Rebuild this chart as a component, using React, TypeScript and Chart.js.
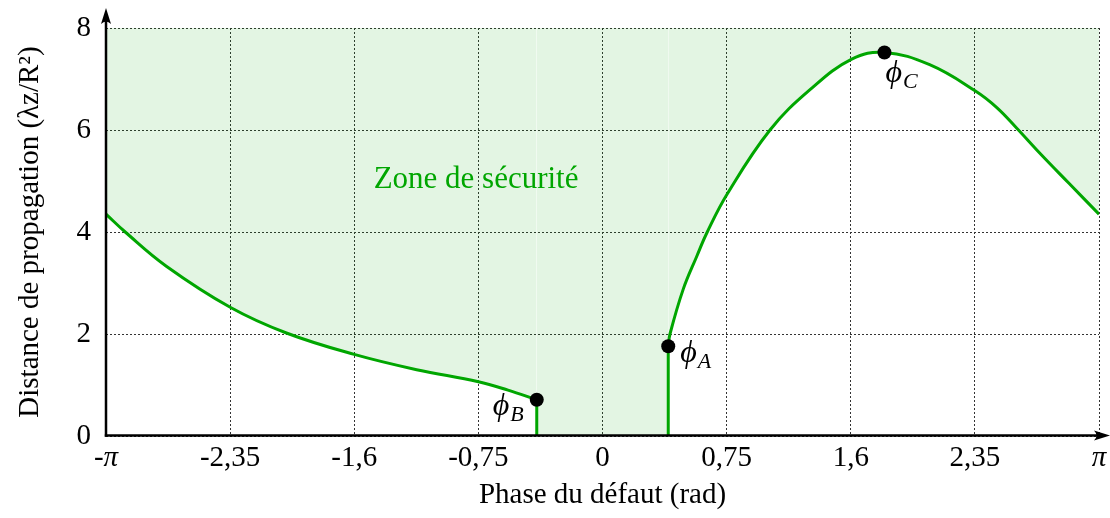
import React, { useEffect, useRef } from 'react';
import { Chart, registerables } from 'chart.js';

Chart.register(...registerables);

const PI = Math.PI;

// Axis ticks
const xTickValues = [-PI, -3 * PI / 4, -PI / 2, -PI / 4, 0, PI / 4, PI / 2, 3 * PI / 4, PI];
const xTickLabels = ['-π', '-2,35', '-1,6', '-0,75', '0', '0,75', '1,6', '2,35', 'π'];
const yTickValues = [0, 2, 4, 6, 8];

// Left branch (from -π down to φB)
const leftX = [-3.1416, -3.02, -2.76, -2.353, -2.0, -1.571, -1.176, -0.785, -0.598, -0.416];
const leftY = [4.35, 4.0, 3.33, 2.52, 2.02, 1.6, 1.3, 1.065, 0.9, 0.71];

// Right branch (from φA up to φC and down to π)
const rightX = [0.416, 0.427, 0.511, 0.596, 0.663, 0.79, 1.06, 1.313, 1.577, 1.784, 2.07, 2.362, 2.495, 2.62, 2.769, 2.95, 3.1416];
const rightY = [1.76, 2.0, 2.88, 3.52, 4.0, 4.75, 6.0, 6.79, 7.39, 7.52, 7.28, 6.76, 6.44, 6.04, 5.54, 4.96, 4.35];

// Remarkable points
const phiNames = ['B', 'A', 'C'];
const phiX = [-0.416, 0.416, 1.784];
const phiY = [0.71, 1.76, 7.52];

const zoneLabel = 'Zone de sécurité';
const xTitle = 'Phase du défaut (rad)';
const yTitle = 'Distance de propagation (λz/R²)';

const GREEN = '#00A600';
const FILL = 'rgba(0,160,0,0.11)';
const FONT = "'Liberation Serif', 'DejaVu Serif', serif";

const overlayPlugin = {
  id: 'overlay',
  afterDatasetsDraw(chart: any) {
    const { ctx, chartArea, scales } = chart;
    const { left, bottom } = chartArea;
    const xs = scales.x;
    const ys = scales.y;
    ctx.save();

    // zone label
    ctx.fillStyle = GREEN;
    ctx.font = `31px ${FONT}`;
    ctx.textAlign = 'center';
    ctx.textBaseline = 'alphabetic';
    ctx.fillText(zoneLabel, xs.getPixelForValue(-0.8), ys.getPixelForValue(4.86));

    // phi labels
    const offs: Record<string, [number, number]> = { B: [-44, 15], A: [12, 16], C: [1, 30] };
    ctx.fillStyle = '#000';
    ctx.textAlign = 'left';
    phiNames.forEach((n, i) => {
      const px = xs.getPixelForValue(phiX[i]);
      const py = ys.getPixelForValue(phiY[i]);
      const [dx, dy] = offs[n];
      ctx.font = `italic 32px ${FONT}`;
      ctx.fillText('ϕ', px + dx, py + dy);
      const w = ctx.measureText('ϕ').width;
      ctx.font = `italic 22px ${FONT}`;
      ctx.fillText(n, px + dx + w + 1, py + dy + 6);
    });

    // axes with arrows
    ctx.strokeStyle = '#000';
    ctx.fillStyle = '#000';
    ctx.lineWidth = 2.5;
    ctx.setLineDash([]);
    const ax = left;
    const ay = bottom - 0.5;
    ctx.beginPath();
    ctx.moveTo(ax, ay + 1.2);
    ctx.lineTo(ax, 20);
    ctx.stroke();
    ctx.beginPath();
    ctx.moveTo(ax, 8);
    ctx.lineTo(ax - 5, 24);
    ctx.quadraticCurveTo(ax, 19, ax + 5, 24);
    ctx.closePath();
    ctx.fill();

    ctx.beginPath();
    ctx.moveTo(ax - 1.2, ay);
    ctx.lineTo(1098, ay);
    ctx.stroke();
    ctx.beginPath();
    ctx.moveTo(1110, ay);
    ctx.lineTo(1094, ay - 5);
    ctx.quadraticCurveTo(1099, ay, 1094, ay + 5);
    ctx.closePath();
    ctx.fill();

    ctx.restore();
  },
};

export default function App() {
  const canvasRef = useRef<HTMLCanvasElement | null>(null);

  useEffect(() => {
    const canvas = canvasRef.current;
    if (!canvas) return;
    const line = (xsArr: number[], ysArr: number[]) => xsArr.map((x, i) => ({ x, y: ysArr[i] }));

    const chart = new Chart(canvas, {
      type: 'line',
      data: {
        datasets: [
          {
            label: 'points',
            data: line(phiX, phiY),
            showLine: false,
            pointRadius: 7,
            pointBackgroundColor: '#000',
            pointBorderColor: '#000',
            pointBorderWidth: 0,
          } as any,
          {
            label: 'vertB',
            data: [{ x: phiX[0], y: phiY[0] }, { x: phiX[0], y: 0 }],
            borderColor: GREEN,
            borderWidth: 3,
            pointRadius: 0,
            fill: false,
          },
          {
            label: 'vertA',
            data: [{ x: phiX[1], y: 0 }, { x: phiX[1], y: phiY[1] }],
            borderColor: GREEN,
            borderWidth: 3,
            pointRadius: 0,
            fill: false,
          },
          {
            label: 'left',
            data: line(leftX, leftY),
            borderColor: GREEN,
            borderWidth: 3,
            pointRadius: 0,
            tension: 0.4,
            fill: 'end',
            backgroundColor: FILL,
          },
          {
            label: 'right',
            data: line(rightX, rightY),
            borderColor: GREEN,
            borderWidth: 3,
            pointRadius: 0,
            tension: 0.4,
            fill: 'end',
            backgroundColor: FILL,
          },
          {
            label: 'gap',
            data: [{ x: phiX[0], y: 0 }, { x: phiX[1], y: 0 }],
            borderWidth: 0,
            borderColor: 'rgba(0,0,0,0)',
            pointRadius: 0,
            fill: 'end',
            backgroundColor: FILL,
          },
        ],
      },
      options: {
        responsive: false,
        animation: false,
        layout: { padding: { left: 0, right: 11, top: 28, bottom: 0 } },
        plugins: { legend: { display: false }, tooltip: { enabled: false } },
        scales: {
          x: {
            type: 'linear',
            min: -PI,
            max: PI,
            afterBuildTicks: (s: any) => {
              s.ticks = xTickValues.map((v) => ({ value: v }));
            },
            afterFit: (s: any) => {
              s.height = 82;
              s.paddingLeft = 0;
              s.paddingRight = 0;
            },
            ticks: {
              autoSkip: false,
              maxRotation: 0,
              padding: 5,
              color: '#000',
              font: (c: any) => ({
                family: FONT,
                size: 29,
                style: c.index === 0 || c.index === xTickLabels.length - 1 ? 'italic' : 'normal',
              }),
              callback: (_v: any, i: number) => xTickLabels[i],
            },
            grid: { color: '#333', lineWidth: 1, drawTicks: false },
            border: { display: false, dash: [2, 2] },
            title: {
              display: true,
              text: xTitle,
              color: '#000',
              font: { family: FONT, size: 29 },
              padding: { top: 0, bottom: 5 },
            },
          },
          y: {
            type: 'linear',
            min: 0,
            max: 8,
            afterBuildTicks: (s: any) => {
              s.ticks = yTickValues.map((v) => ({ value: v }));
            },
            afterFit: (s: any) => {
              s.width = 106;
              s.paddingTop = 0;
              s.paddingBottom = 0;
            },
            ticks: {
              padding: 15,
              color: '#000',
              font: { family: FONT, size: 29 },
            },
            grid: { color: '#333', lineWidth: 1, drawTicks: false },
            border: { display: false, dash: [2, 2] },
            title: {
              display: true,
              text: yTitle,
              color: '#000',
              font: { family: FONT, size: 29 },
              padding: { top: 13, bottom: 0 },
            },
          },
        },
      } as any,
      plugins: [overlayPlugin],
    });
    return () => chart.destroy();
  }, []);

  return (
    <div style={{ position: 'fixed', left: 0, top: 0, width: 1110, height: 518, background: '#fff' }}>
      <canvas ref={canvasRef} width={1110} height={518} style={{ display: 'block' }} />
    </div>
  );
}
